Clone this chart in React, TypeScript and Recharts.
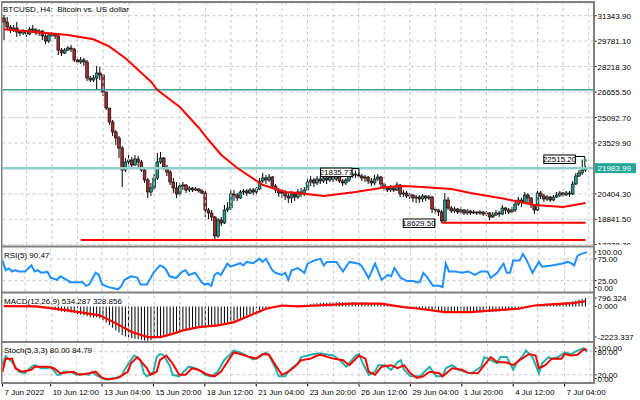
import React from 'react';
import { ComposedChart, Bar, Line, XAxis, YAxis, CartesianGrid, ReferenceLine, ReferenceDot } from 'recharts';

const FONT = '"Liberation Sans", Arial, Helvetica, sans-serif';
const BULL = '#1f9a8c';
const BEAR = '#9e2a2b';
const GRID = '#c8c8c8';
const FRAME = '#808080';
const N_SLOTS = 185;

// ---- price data (BTCUSD H4) ----
const firstOpen = 31203;
const closes = [
  30957, 30650, 30466, 30589, 30343, 30282, 30405, 30220, 30527, 30466,
  30282, 30405, 30098, 29791, 30159, 30220, 30098, 29238, 29054, 29238,
  29361, 29299, 28624, 28501, 28624, 28501, 27519, 27396, 27519, 27826,
  27703, 26659, 25677, 24817, 24203, 23835, 23221, 21870, 22361, 22484,
  22177, 22545, 22361, 21870, 21256, 20519, 20765, 21379, 22361, 22607,
  22054, 21747, 21133, 20765, 20396, 20888, 20949, 20642, 20765, 20642,
  20703, 20581, 20458, 19414, 19230, 18984, 17818, 18800, 18616, 19414,
  19537, 20396, 20335, 20151, 20519, 20581, 20458, 20642, 20519, 20703,
  21195, 21379, 21256, 21440, 20888, 20642, 20458, 20519, 20274, 20151,
  20396, 20212, 20519, 20396, 20642, 21133, 21256, 21072, 21317, 21195,
  21379, 21256, 21440, 21317, 21502, 21195, 21072, 21256, 21502, 21624,
  21563, 21502, 21379, 21440, 21195, 21072, 21317, 21440, 21010, 20765,
  20642, 20765, 20642, 20949, 20396, 20458, 20274, 20335, 20151, 20212,
  20089, 20274, 20151, 20212, 19475, 19414, 19291, 18739, 20028, 19537,
  19353, 19475, 19291, 19414, 19230, 19353, 19230, 19291, 19230, 19291,
  19168, 19230, 18984, 19107, 19230, 19168, 19537, 19414, 19291, 19414,
  19782, 20028, 19905, 20335, 20151, 19721, 19414, 20458, 20274, 20089,
  20212, 20028, 20212, 20335, 20458, 20335, 20458, 20396, 21010, 21502,
  21686, 21870, 21983.99,
];
const highs = [
  31387, 31264, 30773, 30773, 30957, 30466, 30527, 30466, 30650, 30773,
  30589, 30527, 30466, 30220, 30282, 30343, 30282, 30220, 29361, 29361,
  29484, 29545, 29361, 28808, 28808, 28747, 28624, 27642, 27703, 28256,
  28194, 27764, 26475, 25677, 24940, 24326, 23958, 23344, 22607, 22791,
  22668, 22791, 22730, 22484, 21993, 21379, 21072, 21624, 22914, 22975,
  22668, 22177, 21870, 21379, 21133, 21072, 21133, 21010, 20888, 20826,
  20826, 20765, 20703, 20581, 19537, 19414, 19046, 18923, 18984, 19721,
  19905, 20642, 20642, 20458, 20642, 20703, 20703, 20765, 20765, 20826,
  21379, 21686, 21563, 21624, 21502, 21010, 20765, 20703, 20642, 20458,
  20581, 20519, 20703, 20765, 20826, 21317, 21502, 21379, 21502, 21502,
  21563, 21502, 21563, 21624, 21686, 21563, 21317, 21379, 21624, 21747,
  21835.77, 21747, 21624, 21563, 21502, 21379, 21563, 21624, 21502, 21072,
  20888, 20949, 20888, 21133, 21010, 20642, 20581, 20458, 20396, 20335,
  20335, 20396, 20335, 20335, 20274, 19598, 19475, 19414, 20458, 20212,
  19660, 19598, 19537, 19598, 19475, 19475, 19414, 19414, 19353, 19414,
  19353, 19353, 19291, 19291, 19414, 19353, 19721, 19598, 19537, 19598,
  19905, 20212, 20151, 20519, 20458, 20212, 19782, 20642, 20581, 20396,
  20335, 20274, 20335, 20519, 20581, 20519, 20581, 20581, 21195, 21686,
  21870, 22515.2, 22116,
];
const lows = [
  29852, 30466, 30282, 30343, 30036, 30098, 30159, 30036, 30159, 30282,
  30159, 30098, 29852, 29606, 29668, 30036, 29913, 28931, 28870, 28992,
  29177, 29115, 28501, 28317, 28378, 28256, 27335, 27273, 27273, 26843,
  27396, 26414, 25554, 24633, 23958, 23405, 22607, 20826, 21747, 22054,
  21993, 22116, 22054, 21747, 21072, 20151, 20274, 20642, 21256, 22238,
  21870, 21502, 20949, 20458, 20151, 20274, 20642, 20458, 20519, 20519,
  20581, 20458, 20396, 18984, 18861, 18739, 17567, 17695, 18432, 18554,
  19291, 19414, 19967, 19967, 20089, 20335, 20274, 20396, 20335, 20396,
  20642, 21072, 21010, 21133, 20765, 20458, 20212, 20151, 20028, 19844,
  19844, 19967, 20089, 20212, 20274, 20581, 20888, 20826, 20949, 21010,
  21072, 21010, 21133, 21133, 21195, 21072, 20888, 20949, 21133, 21379,
  21379, 21379, 21195, 21133, 21010, 20888, 20949, 21195, 20765, 20581,
  20519, 20519, 20519, 20581, 20212, 20212, 20151, 20089, 19905, 19844,
  19844, 19905, 19967, 20028, 19230, 19168, 19046, 18629.5, 18677, 19414,
  19230, 19230, 19168, 19168, 19107, 19107, 19107, 19168, 19107, 19107,
  19046, 19046, 18800, 18923, 19046, 18984, 19107, 19168, 19168, 19230,
  19291, 19660, 19598, 19782, 19844, 19537, 19168, 19353, 20089, 19905,
  19967, 19905, 19967, 20151, 20212, 20212, 20274, 20212, 20335, 20949,
  21440, 21563, 21747,
];

// moving average (red) read at these bars
const maIdx = [0, 9, 20, 28, 33, 38, 46, 48, 55, 61, 64, 68, 73, 81, 88, 92, 100, 110, 120, 125, 131, 140, 146, 157, 166, 175, 182];
const maVal = [30509, 30362, 30159, 29895, 29441, 28728, 27292, 26782, 25738, 24449, 23712, 22791, 21993, 20949, 20519, 20458, 20274, 20519, 20826, 20888, 20826, 20703, 20458, 20089, 19721, 19598, 19844];

// RSI(5)
const rsiIdx = [0,1,2,3,4,5,7,9,10,11,12,14,15,17,18,20,21,25,26,27,29,30,31,33,35,36,37,38,40,42,43,45,47,49,50,51,52,54,56,57,58,60,62,63,64,65,66,67,68,70,71,74,75,76,78,80,81,82,84,85,87,88,89,90,92,94,95,97,99,100,101,104,105,106,108,111,112,114,116,118,120,121,122,124,126,128,129,130,131,132,134,136,137,138,139,141,143,145,147,149,151,152,154,156,157,158,159,161,162,163,165,167,168,171,174,176,177,178,179,180,182];
const rsiVal = [71,49,53,46,49,46,46,60,46,49,43,45,32,27,35,27,21,21,13,16,43,38,16,10,7,5,13,27,35,32,16,16,43,60,57,49,35,31,46,49,38,43,21,16,18,13,38,43,38,64,57,65,60,68,65,75,68,75,49,43,38,43,27,49,54,43,64,71,75,60,68,68,57,46,68,64,57,31,64,27,38,35,54,31,24,24,21,22,43,35,13,13,10,64,46,46,43,46,38,46,46,31,43,64,43,43,71,71,86,75,43,68,57,60,64,68,65,60,82,86,90.47];

// MACD(12,26,9) main (histogram), one per bar
const macdMain = [
  60, 50, 40, 30, 20, 10, 0, -10, -20, -40,
  -60, -80, -100, -130, -160, -200, -230, -280, -330, -360,
  -380, -400, -440, -490, -530, -570, -640, -690, -720, -700,
  -760, -880, -1030, -1200, -1380, -1540, -1680, -1860, -1940, -1990,
  -2040, -2080, -2110, -2150, -2190, -2210, -2170, -2100, -1990, -1900,
  -1850, -1800, -1760, -1700, -1640, -1560, -1500, -1460, -1420, -1380,
  -1340, -1300, -1270, -1250, -1240, -1230, -1240, -1190, -1150, -1100,
  -1040, -980, -920, -840, -760, -680, -600, -520, -430, -340,
  -260, -180, -110, -60, -30, -10, 10, 30, 40, 50,
  60, 70, 80, 90, 100, 130, 160, 180, 200, 220,
  230, 240, 250, 260, 270, 270, 260, 260, 270, 280,
  280, 270, 260, 250, 230, 210, 200, 190, 170, 140,
  110, 80, 50, 20, -10, -40, -70, -100, -130, -160,
  -180, -200, -220, -240, -270, -300, -330, -360, -390, -380,
  -390, -400, -410, -410, -420, -420, -410, -400, -390, -380,
  -370, -360, -360, -350, -340, -320, -290, -260, -230, -200,
  -160, -130, -100, -60, -30, -10, 10, 30, 60, 90,
  110, 140, 160, 180, 200, 230, 260, 290, 330, 380,
  430, 480, 534.287,
];
const sigIdx = [0, 10, 20, 30, 35, 40, 45, 49, 53, 56, 61, 67, 72, 77, 82, 87, 92, 98, 109, 118, 125, 130, 138, 146, 153, 161, 166, 171, 178, 182];
const sigVal = [20, 0, -257, -578, -1091, -1650, -1971, -1971, -1750, -1540, -1329, -1220, -1008, -578, -150, 58, 0, 58, 173, 173, -45, -150, -366, -366, -257, -150, 58, 128, 212, 328.856];

// Stochastic(5,3,3)
const kIdx = [0,1,3,5,7,9,10,12,14,15,17,18,19,21,23,25,27,28,29,32,35,37,38,40,41,43,44,45,47,48,49,50,52,53,55,57,58,60,62,63,65,67,69,71,72,74,76,78,80,82,83,85,86,88,89,90,92,93,95,97,99,100,103,105,107,110,111,112,114,116,117,119,121,123,124,125,127,130,132,133,135,137,138,140,142,145,146,149,150,152,154,155,157,159,160,162,163,165,167,168,170,171,173,175,177,179,181,182];
const kVal = [45,68,53,28,24,41,45,37,37,41,20,20,28,28,20,22,20,28,20,8,12,16,33,58,70,58,24,16,28,66,74,72,45,20,16,33,41,37,28,20,16,28,58,74,83,78,70,60,66,78,70,37,16,16,28,37,50,66,70,74,76,74,70,58,41,70,74,53,20,28,45,45,33,53,58,33,16,16,33,41,16,16,37,45,33,25,24,41,66,58,50,66,66,33,50,70,83,66,24,50,66,62,66,78,74,83,89,80];
const dIdx = [0,1,3,4,6,9,10,14,16,18,22,24,27,29,31,33,36,39,40,42,45,46,48,49,51,53,55,57,59,61,64,66,68,71,72,74,77,79,81,83,85,87,89,91,93,96,98,99,103,106,108,111,113,114,116,118,121,123,125,127,129,131,133,136,137,140,143,145,148,150,152,154,157,159,161,164,166,167,169,171,174,175,177,179,181,182];
const dVal = [28,62,62,37,28,33,41,41,37,24,28,20,24,28,12,8,12,28,50,66,37,20,28,58,70,49,20,20,37,33,20,16,28,66,78,74,66,62,74,72,45,20,28,41,58,62,70,72,62,58,45,70,62,28,20,41,45,37,45,24,12,16,28,24,16,37,33,25,24,45,66,53,52,45,58,74,70,37,45,62,62,74,70,72,86,84.79];

// axes / levels
const priceTicks = [31343.9, 29781.1, 28218.3, 26655.5, 25092.7, 23529.9, 21967.1, 20404.3, 18841.5, 17278.7];
const lastPrice = 21983.99;
const resistanceLevel = 26800;
const lowLevel = 17567;
const lowLevelFrom = 24;
const swingLow = 18629.5;
const swingLowIdx = 137;
const swingHigh = 21835.77;
const swingHighIdx = 110;
const recentHigh = 22515.2;
const recentHighIdx = 181;
const lastIdx = 182;
const dateTickIdx = [0, 15, 31, 47, 63, 79, 95, 111, 127, 143, 159, 175];
const dateLabels = ['7 Jun 2022', '10 Jun 12:00', '13 Jun 04:00', '15 Jun 20:00', '18 Jun 12:00', '21 Jun 04:00', '23 Jun 20:00', '26 Jun 12:00', '29 Jun 04:00', '1 Jul 20:00', '4 Jul 12:00', '7 Jul 04:00'];
const gridIdx = [7, 15, 23, 31, 39, 47, 55, 63, 71, 79, 87, 95, 103, 111, 119, 127, 135, 143, 151, 159, 167, 175, 183];
const macdDomain = [-2223.337, 796.324];

// ---- table ----
const rows: any[] = [];
for (let i = 0; i < N_SLOTS; i++) {
  const r: any = { i };
  if (i < closes.length) {
    const open = i === 0 ? firstOpen : closes[i - 1];
    const close = closes[i];
    r.open = open;
    r.close = close;
    r.range = [Math.min(lows[i], open, close), Math.max(highs[i], open, close)];
    r.macd = macdMain[i];
  }
  rows.push(r);
}
const put = (key: string, idx: number[], vals: number[]) => idx.forEach((ix, k) => { rows[ix][key] = vals[k]; });
put('ma', maIdx, maVal);
put('rsi', rsiIdx, rsiVal);
put('signal', sigIdx, sigVal);
put('k', kIdx, kVal);
put('d', dIdx, dVal);

const MARGIN = { top: 0, right: 0, bottom: 0, left: 2.5 };
const AXIS_W = 46.5;

const Candle = (props: any) => {
  const { x, y, width, height, payload } = props;
  if (!payload || payload.close == null || !payload.range) return null;
  const [lo, hi] = payload.range;
  const top = height < 0 ? y + height : y;
  const h = Math.abs(height);
  const cx = x + width / 2;
  const span = hi - lo;
  const py = (p: number) => (span > 0 ? top + ((hi - p) / span) * h : top);
  const yo = py(payload.open);
  const yc = py(payload.close);
  const up = payload.close >= payload.open;
  const bt = Math.min(yo, yc);
  const bh = Math.max(Math.abs(yo - yc), 0.8);
  return (
    <g>
      <line x1={cx} x2={cx} y1={top} y2={top + h} stroke="#000" strokeWidth={1} />
      <rect x={cx - 1.4} y={bt} width={2.8} height={bh} fill={up ? BULL : BEAR} stroke="#000" strokeWidth={0.6} />
    </g>
  );
};

const PriceTick = (props: any) => {
  const { x, y, payload } = props;
  const v = payload.value;
  if (v === lastPrice) {
    return (
      <g>
        <rect x={x + 1.5} y={y - 5} width={41} height={10} fill="#26a69a" />
        <text x={x + 4} y={y + 3} fontSize={8} fill="#fff" fontFamily={FONT}>{v.toFixed(2)}</text>
      </g>
    );
  }
  return (
    <g>
      <line x1={x} x2={x + 3} y1={y} y2={y} stroke="#000" strokeWidth={1} />
      <text x={x + 4} y={y + 3} fontSize={8} fill="#000" fontFamily={FONT}>{v.toFixed(2)}</text>
    </g>
  );
};

const makeSubTick = (decimals: number, top: number, bottom: number) => (props: any) => {
  const { x, y, payload } = props;
  const v = payload.value;
  const dy = v === top ? 4 : v === bottom ? -4 : 0;
  return (
    <g>
      <line x1={x} x2={x + 3} y1={y + dy} y2={y + dy} stroke="#000" strokeWidth={1} />
      <text x={x + 4} y={y + dy + 3} fontSize={8} fill="#000" fontFamily={FONT}>{v.toFixed(decimals)}</text>
    </g>
  );
};
const RsiTick = makeSubTick(2, 100, 0);
const StochTick = makeSubTick(2, 100, 0);
const MacdTick = makeSubTick(3, macdDomain[1], macdDomain[0]);

const DateTick = (props: any) => {
  const { x, y, payload } = props;
  const k = dateTickIdx.indexOf(payload.value);
  if (k < 0) return <g />;
  return (
    <g>
      <line x1={x} x2={x} y1={y} y2={y + 4} stroke="#000" strokeWidth={1} />
      <text x={x + 2} y={y + 12} fontSize={8} fill="#000" fontFamily={FONT}>{dateLabels[k]}</text>
    </g>
  );
};

const tagBox = (cx: number, cy: number, text: string, bx: number, by: number) => (
  <g>
    <rect x={cx + bx} y={cy + by} width={31.5} height={8.5} fill="#fff" stroke="#000" strokeWidth={1} />
    <text x={cx + bx + 15.75} y={cy + by + 7} fontSize={8} textAnchor="middle" fill="#000" fontFamily={FONT}>{text}</text>
  </g>
);

const SwingHighShape = (p: any) => (
  <g>
    {tagBox(p.cx, p.cy, swingHigh.toFixed(2), -35, -2.5)}
    <path d={`M${p.cx - 3.5},${p.cy - 2} H${p.cx + 3.5} V${p.cy + 6}`} stroke="#000" strokeWidth={1} fill="none" />
  </g>
);
const SwingLowShape = (p: any) => (
  <g>
    {tagBox(p.cx, p.cy, swingLow.toFixed(2), -38.5, -3.8)}
  </g>
);
const RecentHighShape = (p: any) => (
  <g>
    {tagBox(p.cx, p.cy, recentHigh.toFixed(2), -38.5, -4.5)}
    <path d={`M${p.cx - 7},${p.cy - 3} H${p.cx + 2.5} V${p.cy + 7}`} stroke="#000" strokeWidth={1} fill="none" />
    <rect x={p.cx + 1.5} y={p.cy} width={3} height={2} fill="#1fa12a" />
  </g>
);

const vGrid = gridIdx.map((g) => (
  <ReferenceLine key={'g' + g} x={g} stroke={GRID} strokeDasharray="3 3" strokeWidth={1} />
));

export default function App() {
  return (
    <div style={{ position: 'absolute', left: 0, top: 0, width: 640, height: 400, background: '#fff', overflow: 'hidden' }}>
      {/* main price panel */}
      <div style={{ position: 'absolute', left: 0, top: 3 }}>
        <ComposedChart width={640} height={242} data={rows} margin={MARGIN}>
          <CartesianGrid vertical={false} stroke={GRID} strokeDasharray="3 3" />
          {vGrid}
          <XAxis dataKey="i" type="category" hide />
          <YAxis orientation="right" width={AXIS_W} domain={[17265, 32124]} allowDataOverflow ticks={[...priceTicks, lastPrice]} interval={0} tickSize={0} tickMargin={0} tickLine={false} axisLine={false} tick={<PriceTick />} />
          <ReferenceLine y={resistanceLevel} stroke="#3d9e9e" strokeWidth={1.5} />
          <ReferenceLine y={lastPrice} stroke="#8fd0cb" strokeWidth={2.5} />
          <ReferenceLine segment={[{ x: lowLevelFrom, y: lowLevel }, { x: lastIdx, y: lowLevel }]} stroke="#ff0000" strokeWidth={2} />
          <ReferenceLine segment={[{ x: swingLowIdx, y: swingLow }, { x: lastIdx, y: swingLow }]} stroke="#ff0000" strokeWidth={2} />
          <Bar dataKey="range" barSize={3} shape={<Candle />} isAnimationActive={false} />
          <Line dataKey="ma" stroke="#ff0000" strokeWidth={2} dot={false} connectNulls isAnimationActive={false} />
          <ReferenceDot x={swingHighIdx} y={swingHigh} r={0} shape={SwingHighShape} />
          <ReferenceDot x={swingLowIdx} y={swingLow} r={0} shape={SwingLowShape} />
          <ReferenceDot x={recentHighIdx} y={recentHigh} r={0} shape={RecentHighShape} />
        </ComposedChart>
      </div>

      {/* RSI panel */}
      <div style={{ position: 'absolute', left: 0, top: 248, background: '#fff' }}>
        <ComposedChart width={640} height={43.5} data={rows} margin={MARGIN}>
          {vGrid}
          <ReferenceLine y={75} stroke={GRID} strokeDasharray="3 3" />
          <ReferenceLine y={25} stroke={GRID} strokeDasharray="3 3" />
          <XAxis dataKey="i" type="category" hide />
          <YAxis orientation="right" width={AXIS_W} domain={[0, 100]} allowDataOverflow ticks={[100, 75, 25, 0]} interval={0} tickSize={0} tickMargin={0} tickLine={false} axisLine={false} tick={<RsiTick />} />
          <Line dataKey="rsi" stroke="#1e90ff" strokeWidth={2} dot={false} connectNulls isAnimationActive={false} />
        </ComposedChart>
      </div>

      {/* MACD panel */}
      <div style={{ position: 'absolute', left: 0, top: 293.5, background: '#fff' }}>
        <ComposedChart width={640} height={47} data={rows} margin={MARGIN}>
          {vGrid}
          <XAxis dataKey="i" type="category" hide />
          <YAxis orientation="right" width={AXIS_W} domain={macdDomain} allowDataOverflow ticks={[macdDomain[1], 0, macdDomain[0]]} interval={0} tickSize={0} tickMargin={0} tickLine={false} axisLine={false} tick={<MacdTick />} />
          <Bar dataKey="macd" barSize={1} fill="#000" isAnimationActive={false} />
          <Line dataKey="signal" stroke="#ff0000" strokeWidth={2.2} dot={false} connectNulls isAnimationActive={false} />
        </ComposedChart>
      </div>

      {/* Stochastic panel + date axis */}
      <div style={{ position: 'absolute', left: 0, top: 343.5, background: '#fff' }}>
        <ComposedChart width={640} height={55.5} data={rows} margin={MARGIN}>
          {vGrid}
          <ReferenceLine y={80} stroke={GRID} strokeDasharray="3 3" />
          <ReferenceLine y={20} stroke={GRID} strokeDasharray="3 3" />
          <XAxis dataKey="i" type="category" height={17} interval={0} tickSize={0} tickMargin={0} tickLine={false} axisLine={false} tick={<DateTick />} />
          <YAxis orientation="right" width={AXIS_W} domain={[0, 100]} allowDataOverflow ticks={[100, 80, 20, 0]} interval={0} tickSize={0} tickMargin={0} tickLine={false} axisLine={false} tick={<StochTick />} />
          <Line dataKey="k" stroke="#20b2aa" strokeWidth={2} dot={false} connectNulls isAnimationActive={false} />
          <Line dataKey="d" stroke="#ff0000" strokeWidth={2} dot={false} connectNulls isAnimationActive={false} />
        </ComposedChart>
      </div>

      {/* frame + titles */}
      <svg width={640} height={400} style={{ position: 'absolute', left: 0, top: 0, pointerEvents: 'none' }}>
        <line x1={1} x2={595} y1={2} y2={2} stroke={FRAME} strokeWidth={2} />
        <line x1={1.75} x2={1.75} y1={1} y2={384} stroke={FRAME} strokeWidth={1.5} />
        <line x1={594} x2={594} y1={1} y2={384} stroke={FRAME} strokeWidth={2} />
        <line x1={1} x2={595} y1={246.5} y2={246.5} stroke={FRAME} strokeWidth={2} />
        <line x1={1} x2={595} y1={292.5} y2={292.5} stroke={FRAME} strokeWidth={2} />
        <line x1={1} x2={595} y1={342} y2={342} stroke={FRAME} strokeWidth={2} />
        <line x1={1} x2={595} y1={383} y2={383} stroke={FRAME} strokeWidth={2} />
        <text x={3} y={11.5} fontSize={8} fill="#000" fontFamily={FONT}>{'BTCUSD, H4:\u00a0 Bitcoin vs. US dollar'}</text>
        <text x={4} y={258} fontSize={8} fill="#000" fontFamily={FONT}>RSI(5) 90.47</text>
        <text x={4} y={304} fontSize={8} fill="#000" fontFamily={FONT}>MACD(12,26,9) 534.287 328.856</text>
        <text x={4} y={353} fontSize={8} fill="#000" fontFamily={FONT}>Stoch(5,3,3) 80.00 84.79</text>
      </svg>
    </div>
  );
}
